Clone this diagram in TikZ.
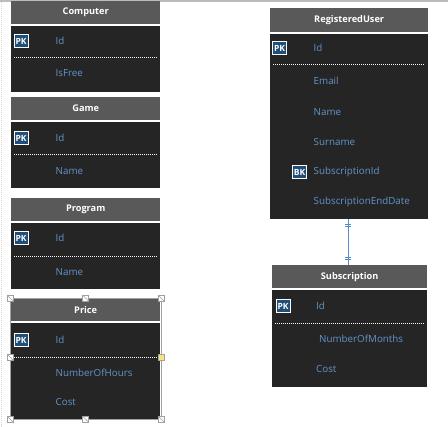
\documentclass[tikz,border=0pt]{standalone}
\usepackage{fontspec}
\setmainfont{Open Sans}
\usetikzlibrary{positioning}
\definecolor{headgray}{RGB}{89,89,89}
\definecolor{bodygray}{RGB}{37,37,37}
\definecolor{fieldblue}{RGB}{98,148,202}
\definecolor{keyblue}{RGB}{31,78,121}
\definecolor{linkblue}{RGB}{84,141,204}
\definecolor{framegray}{RGB}{160,160,160}
\definecolor{handleyellow}{RGB}{250,226,130}

\begin{document}
\begin{tikzpicture}[x=1pt,y=-1pt,
    head/.style={fill=headgray,text=white,anchor=north west,inner sep=0pt,minimum height=23pt,font=\fontsize{9.2}{10}\selectfont\bfseries},
    body/.style={fill=bodygray,anchor=north west,inner sep=0pt},
    field/.style={text=fieldblue,anchor=west,inner sep=0pt,font=\fontsize{9.8}{11}\selectfont},
    keybox/.style={draw=white,fill=keyblue,text=white,inner sep=0pt,minimum width=14pt,minimum height=13pt,font=\fontsize{8.5}{9}\selectfont\bfseries},
    sep/.style={white,line width=0.6pt,dash pattern=on 1pt off 1pt},
    link/.style={linkblue,line width=0.8pt},
    handle/.style={draw=framegray,fill=white,inner sep=0pt,minimum size=6pt,line width=0.5pt,
        path picture={\draw[framegray,line width=0.5pt] (path picture bounding box.north west) -- (path picture bounding box.south east);}}]
    \useasboundingbox (0,0) rectangle (448,427);
    \fill[framegray!70] (0,0) rectangle (448,2);
    \draw[framegray!45,line width=0.8pt,dash pattern=on 1pt off 1pt] (1.5,2) -- (1.5,427);

    % Computer
    \node[head,minimum width=149pt] (computer) at (11,1) {Computer};
    \node[body,minimum width=149pt,minimum height=66pt] (computer-body) at ([yshift=-1pt]computer.south west) {};
    \node[keybox] (computer-pk) at (21,41) {PK};
    \node[field] (computer-id) at (55.5,41) {Id};
    \draw[sep] (14,57) -- (157,57);
    \node[field] (computer-isfree) at (55.5,73) {IsFree};

    % Game
    \node[head,minimum width=149pt] (game) at (11,97) {Game};
    \node[body,minimum width=149pt,minimum height=66pt] (game-body) at ([yshift=-1pt]game.south west) {};
    \node[keybox] (game-pk) at (21,138) {PK};
    \node[field] (game-id) at (55.5,138) {Id};
    \draw[sep] (14,154) -- (157,154);
    \node[field] (game-name) at (55.5,171) {Name};

    % Program
    \node[head,minimum width=149pt] (program) at (11,198) {Program};
    \node[body,minimum width=149pt,minimum height=66pt] (program-body) at ([yshift=-1pt]program.south west) {};
    \node[keybox] (program-pk) at (21,238) {PK};
    \node[field] (program-id) at (55.5,238) {Id};
    \draw[sep] (14,256) -- (157,256);
    \node[field] (program-name) at (55.5,272) {Name};

    % Price (selected)
    \node[head,minimum width=149pt] (price) at (11,298) {Price};
    \node[body,minimum width=149pt,minimum height=97pt] (price-body) at ([yshift=-1pt]price.south west) {};
    \node[keybox] (price-pk) at (21,340) {PK};
    \node[field] (price-id) at (55.5,340) {Id};
    \draw[sep] (14,357) -- (157,357);
    \node[field] (price-hours) at (55.5,373) {NumberOfHours};
    \node[field] (price-cost) at (55.5,402) {Cost};
    \draw[framegray,line width=0.8pt] ([xshift=-1pt]price.north west) rectangle ([xshift=1pt]price-body.south east);
    \foreach \hx/\hy in {10/298,85.5/298,161/298,10/357,10/419,85.5/419,161/419}
        \node[handle] at (\hx,\hy) {};
    \node[draw=framegray,fill=handleyellow,inner sep=0pt,minimum size=6pt,line width=0.5pt] at (161,357) {};

    % RegisteredUser
    \node[head,minimum width=158pt,minimum height=24pt] (registereduser) at (270,8) {RegisteredUser};
    \node[body,minimum width=158pt,minimum height=185pt] (registereduser-body) at ([yshift=-1pt]registereduser.south west) {};
    \node[keybox] (registereduser-pk) at (279.5,48) {PK};
    \node[field] (registereduser-id) at (313.5,48) {Id};
    \draw[sep] (273,64) -- (425,64);
    \node[field] (registereduser-email) at (313.5,81) {Email};
    \node[field] (registereduser-name) at (313.5,112) {Name};
    \node[field] (registereduser-surname) at (313.5,142) {Surname};
    \node[keybox] (registereduser-bk) at (299.5,172) {BK};
    \node[field] (registereduser-subid) at (313.5,172) {SubscriptionId};
    \node[field] (registereduser-enddate) at (313.5,202) {SubscriptionEndDate};

    % Subscription
    \node[head,minimum width=155pt] (subscription) at (272,265) {Subscription};
    \node[body,minimum width=155pt,minimum height=97pt] (subscription-body) at ([yshift=-1pt]subscription.south west) {};
    \node[keybox] (subscription-pk) at (283,306) {PK};
    \node[field] (subscription-id) at (316,306) {Id};
    \draw[sep] (275,323) -- (424,323);
    \node[field] (subscription-months) at (319,339) {NumberOfMonths};
    \node[field] (subscription-cost) at (316,369) {Cost};

    % one-to-one link
    \coordinate (linkx) at (348,0);
    \draw[link] (registereduser-body.south -| linkx) -- (subscription.north -| linkx);
    \draw[link] (registereduser-body.south -| linkx) ++(-3,6) -- ++(6,0) ++(-6,2) -- ++(6,0);
    \draw[link] (subscription.north -| linkx) ++(-3,-8) -- ++(6,0) ++(-6,2) -- ++(6,0);
\end{tikzpicture}
\end{document}
